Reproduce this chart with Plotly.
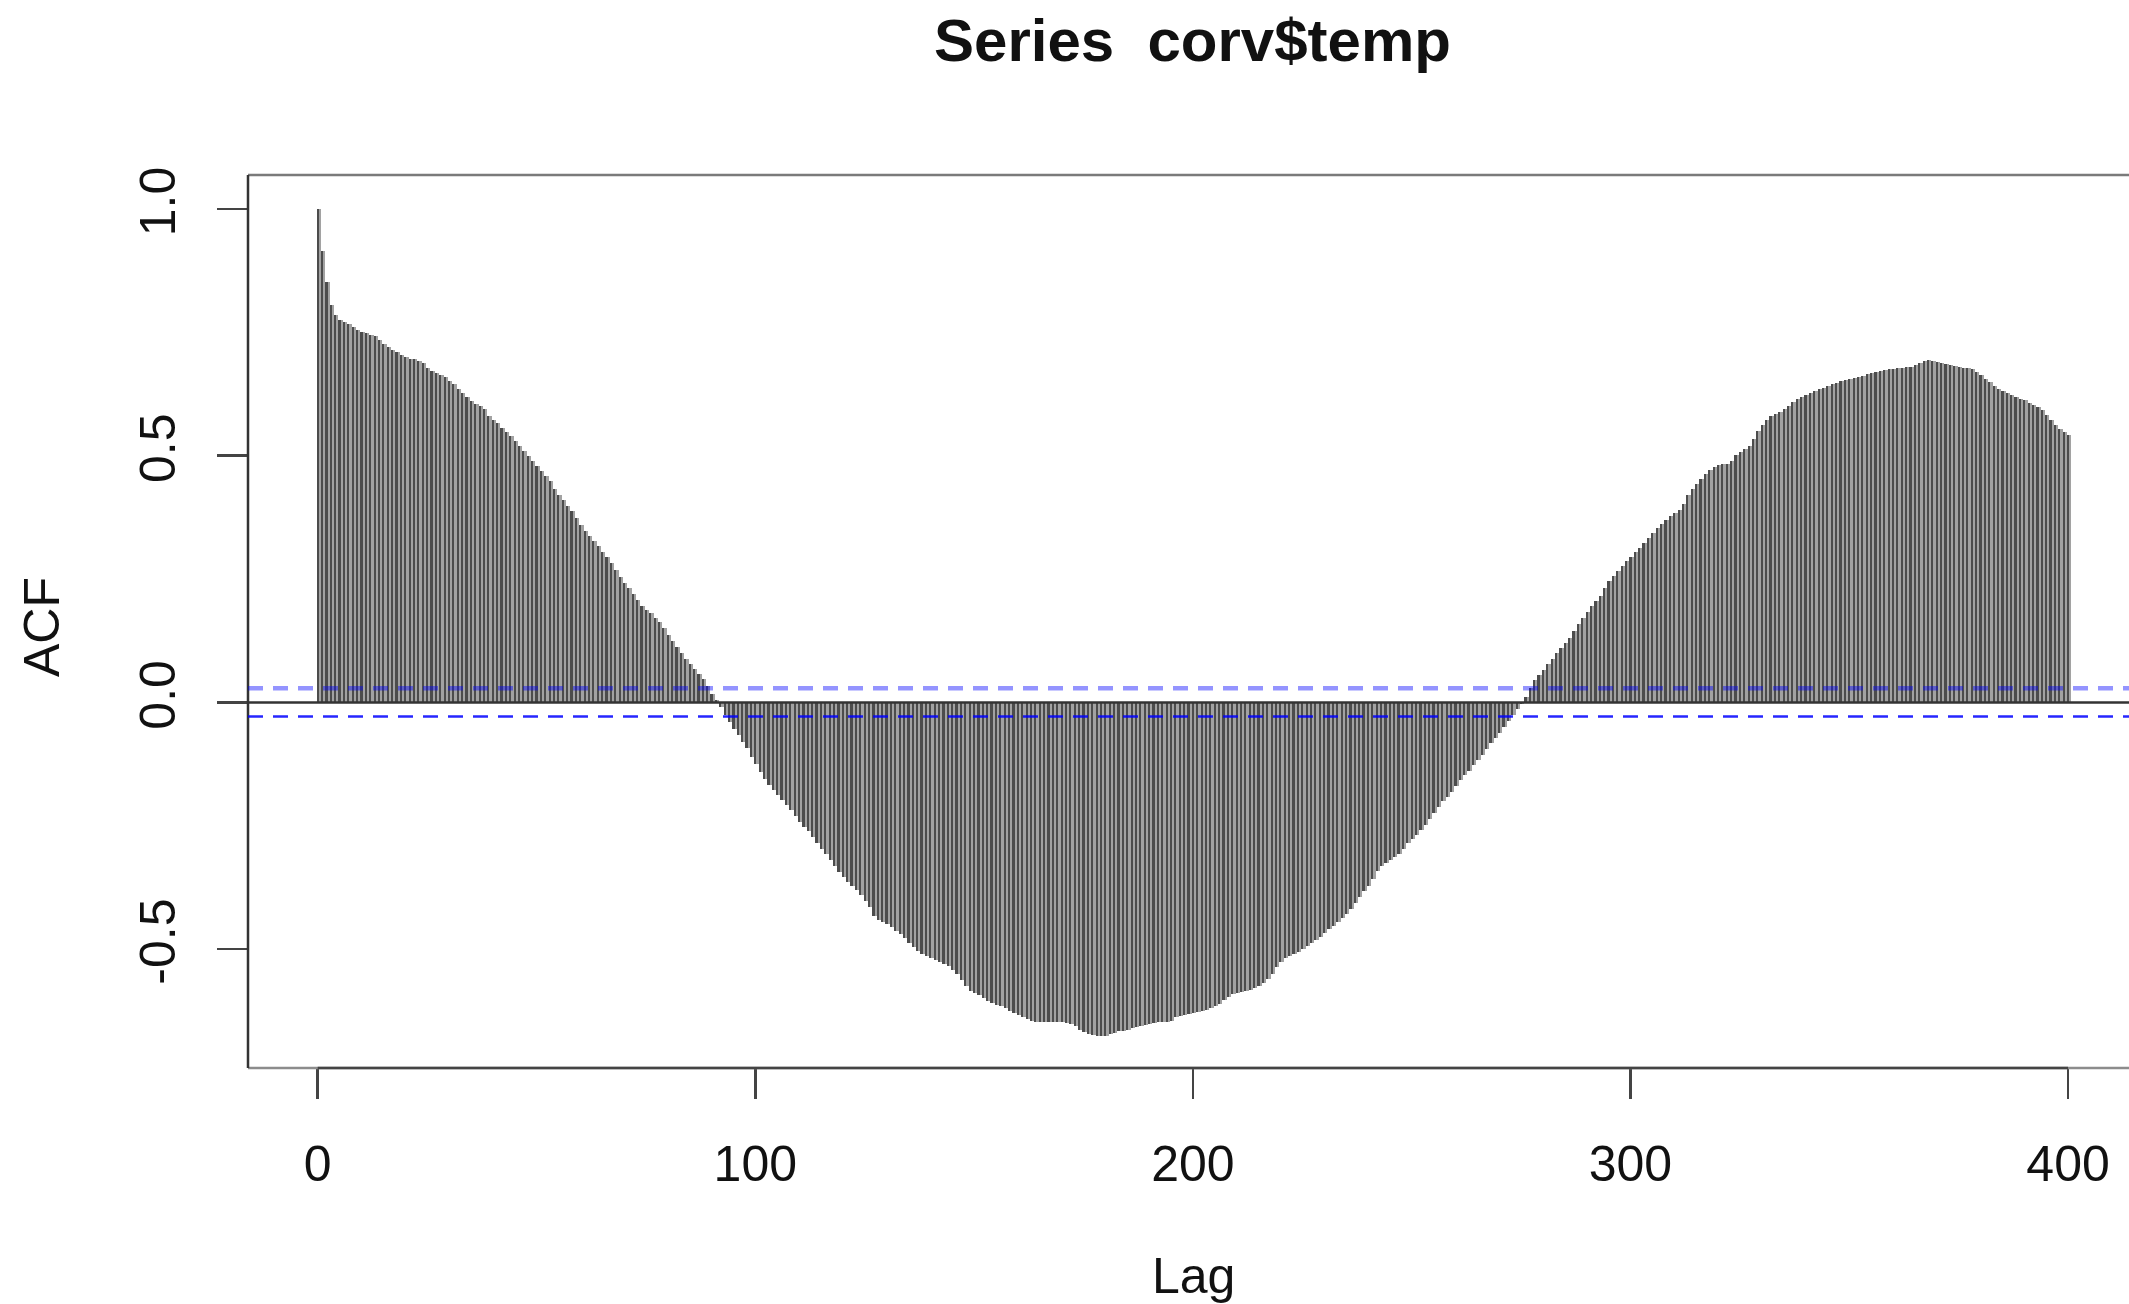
import plotly.graph_objects as go

# Sample autocorrelation of corv$temp, lags 0..400
lags = list(range(0, 401))
acf_values = [
    1.000, 0.915, 0.853, 0.805, 0.785, 0.776, 0.771, 0.766, 0.760, 0.754,
    0.750, 0.748, 0.745, 0.742, 0.735, 0.727, 0.720, 0.714, 0.710, 0.705,
    0.700, 0.697, 0.696, 0.693, 0.687, 0.677, 0.671, 0.667, 0.664, 0.660,
    0.652, 0.645, 0.636, 0.627, 0.619, 0.611, 0.605, 0.601, 0.594, 0.581,
    0.573, 0.566, 0.557, 0.548, 0.539, 0.529, 0.519, 0.509, 0.500, 0.490,
    0.479, 0.469, 0.459, 0.449, 0.432, 0.420, 0.410, 0.399, 0.387, 0.373,
    0.360, 0.348, 0.337, 0.327, 0.317, 0.305, 0.294, 0.282, 0.268, 0.255,
    0.243, 0.231, 0.219, 0.207, 0.196, 0.188, 0.181, 0.172, 0.162, 0.151,
    0.137, 0.124, 0.112, 0.100, 0.089, 0.078, 0.068, 0.058, 0.047, 0.033,
    0.018, 0.005, -0.010, -0.025, -0.040, -0.053, -0.066, -0.080, -0.093, -0.110,
    -0.125, -0.142, -0.156, -0.168, -0.178, -0.187, -0.197, -0.207, -0.219, -0.231,
    -0.243, -0.252, -0.260, -0.272, -0.285, -0.297, -0.308, -0.320, -0.332, -0.344,
    -0.354, -0.363, -0.372, -0.381, -0.391, -0.403, -0.414, -0.432, -0.441, -0.446,
    -0.450, -0.456, -0.463, -0.469, -0.478, -0.487, -0.495, -0.503, -0.509, -0.514,
    -0.519, -0.523, -0.527, -0.531, -0.535, -0.542, -0.551, -0.562, -0.575, -0.584,
    -0.589, -0.593, -0.599, -0.605, -0.610, -0.613, -0.616, -0.620, -0.625, -0.629,
    -0.633, -0.637, -0.642, -0.646, -0.648, -0.648, -0.648, -0.647, -0.648, -0.648,
    -0.648, -0.649, -0.651, -0.656, -0.664, -0.669, -0.672, -0.674, -0.676, -0.677,
    -0.676, -0.673, -0.670, -0.667, -0.665, -0.663, -0.660, -0.657, -0.655, -0.653,
    -0.652, -0.650, -0.648, -0.648, -0.648, -0.645, -0.638, -0.635, -0.634, -0.632,
    -0.630, -0.628, -0.626, -0.623, -0.619, -0.615, -0.611, -0.604, -0.597, -0.592,
    -0.589, -0.587, -0.585, -0.583, -0.579, -0.575, -0.568, -0.560, -0.550, -0.537,
    -0.527, -0.519, -0.513, -0.509, -0.505, -0.499, -0.493, -0.487, -0.482, -0.476,
    -0.468, -0.460, -0.453, -0.446, -0.437, -0.429, -0.418, -0.406, -0.395, -0.383,
    -0.372, -0.357, -0.342, -0.331, -0.325, -0.320, -0.314, -0.308, -0.297, -0.285,
    -0.276, -0.268, -0.259, -0.248, -0.237, -0.224, -0.211, -0.200, -0.191, -0.181,
    -0.170, -0.158, -0.148, -0.138, -0.127, -0.117, -0.106, -0.094, -0.083, -0.072,
    -0.061, -0.049, -0.037, -0.025, -0.013, -0.003, 0.010, 0.030, 0.045, 0.055,
    0.066, 0.077, 0.089, 0.100, 0.111, 0.121, 0.131, 0.145, 0.158, 0.171,
    0.184, 0.195, 0.205, 0.215, 0.232, 0.247, 0.257, 0.267, 0.277, 0.286,
    0.295, 0.304, 0.313, 0.323, 0.334, 0.344, 0.353, 0.362, 0.370, 0.377,
    0.383, 0.389, 0.403, 0.420, 0.433, 0.443, 0.452, 0.462, 0.471, 0.477,
    0.481, 0.483, 0.484, 0.490, 0.501, 0.508, 0.514, 0.520, 0.533, 0.550,
    0.562, 0.573, 0.580, 0.585, 0.589, 0.595, 0.601, 0.608, 0.614, 0.619,
    0.623, 0.628, 0.632, 0.635, 0.638, 0.642, 0.645, 0.648, 0.651, 0.653,
    0.655, 0.657, 0.659, 0.662, 0.665, 0.668, 0.670, 0.672, 0.674, 0.675,
    0.676, 0.677, 0.678, 0.679, 0.680, 0.683, 0.687, 0.691, 0.694, 0.692,
    0.690, 0.688, 0.686, 0.684, 0.681, 0.679, 0.678, 0.677, 0.675, 0.670,
    0.664, 0.656, 0.649, 0.642, 0.636, 0.632, 0.628, 0.624, 0.620, 0.616,
    0.612, 0.607, 0.603, 0.598, 0.592, 0.582, 0.572, 0.563, 0.555, 0.549,
    0.542,
]

# 95% confidence bound for white noise
ci_bound = 0.0285

x_ticks = [0, 100, 200, 300, 400]
y_ticks = [-0.5, 0.0, 0.5, 1.0]
y_tick_labels = ["-0.5", "0.0", "0.5", "1.0"]

FONT = "Liberation Sans, Arial, Helvetica, sans-serif"
W, H = 2129, 1304
ML, MR, MT, MB = 248, 0, 175, 236

fig = go.Figure()

# each spike: a lighter antialiased cell with a dark core on top
fig.add_trace(go.Bar(
    x=lags, y=acf_values, width=1.0, offset=-0.25,
    marker=dict(color="#a2a2a2", line=dict(width=0)),
    hoverinfo="skip",
))
fig.add_trace(go.Bar(
    x=lags, y=acf_values, width=0.5, offset=-0.25,
    marker=dict(color="#4c4c4c", line=dict(width=0)),
    hoverinfo="skip",
))

shapes = [
    # plot frame (right side lies beyond the page edge)
    dict(type="line", xref="paper", yref="paper", x0=0, x1=1, y0=1, y1=1,
         line=dict(color="#7a7a7a", width=2.5), layer="above"),
    dict(type="line", xref="paper", yref="paper", x0=0, x1=1, y0=0, y1=0,
         line=dict(color="#8c8c8c", width=2.5), layer="above"),
    dict(type="line", xref="paper", yref="paper", x0=0, x1=0, y0=0, y1=1,
         line=dict(color="#333333", width=2.5), layer="above"),
    # x axis line between first and last tick
    dict(type="line", xref="x", yref="paper", x0=0, x1=400, y0=0, y1=0,
         line=dict(color="#444444", width=2.5), layer="above"),
    # zero reference
    dict(type="line", xref="paper", yref="y", x0=0, x1=1, y0=0, y1=0,
         line=dict(color="#333333", width=2.5), layer="above"),
    # confidence bounds
    dict(type="line", xref="paper", yref="y", x0=0, x1=1, y0=ci_bound, y1=ci_bound,
         line=dict(color="rgba(0,0,255,0.42)", width=4.5, dash="15px,10px"), layer="above"),
    dict(type="line", xref="paper", yref="y", x0=0, x1=1, y0=-ci_bound, y1=-ci_bound,
         line=dict(color="rgba(0,0,255,0.85)", width=2.5, dash="15px,10px"), layer="above"),
]

plot_w = W - ML - MR
plot_h = H - MT - MB

annotations = [
    dict(text="<b>Series\u00a0 corv$temp</b>", xref="paper", yref="paper",
         x=(1192 - ML) / plot_w, y=(H - MB - 41) / plot_h,
         xanchor="center", yanchor="middle", showarrow=False,
         font=dict(family=FONT, size=60, color="#111111")),
    dict(text="Lag", xref="paper", yref="paper",
         x=(1193 - ML) / plot_w, y=(H - MB - 1276) / plot_h,
         xanchor="center", yanchor="middle", showarrow=False,
         font=dict(family=FONT, size=50, color="#111111")),
    dict(text="ACF", xref="paper", yref="paper", textangle=-90,
         x=(42 - ML) / plot_w, y=(H - MB - 627) / plot_h,
         xanchor="center", yanchor="middle", showarrow=False,
         font=dict(family=FONT, size=50, color="#111111")),
]

fig.update_layout(
    width=W, height=H, autosize=False,
    margin=dict(l=ML, r=MR, t=MT, b=MB, pad=0),
    paper_bgcolor="white", plot_bgcolor="white",
    barmode="overlay", bargap=0, showlegend=False,
    shapes=shapes, annotations=annotations,
    hovermode=False,
    xaxis=dict(
        range=[-15.93, 413.93], tickmode="array", tickvals=x_ticks,
        ticktext=[str(v) for v in x_ticks],
        ticks="outside", ticklen=30, tickwidth=2.5, tickcolor="#444444",
        showgrid=False, zeroline=False, showline=False,
        tickfont=dict(family=FONT, size=50, color="#111111"),
        ticklabelstandoff=22,
    ),
    yaxis=dict(
        range=[-0.741, 1.069], tickmode="array", tickvals=y_ticks,
        ticktext=y_tick_labels, tickangle=-90,
        ticks="outside", ticklen=30, tickwidth=2.5, tickcolor="#444444",
        showgrid=False, zeroline=False, showline=False,
        tickfont=dict(family=FONT, size=50, color="#111111"),
        ticklabelstandoff=22,
    ),
)

fig.write_html("out.html", config={"displayModeBar": False, "staticPlot": True})
